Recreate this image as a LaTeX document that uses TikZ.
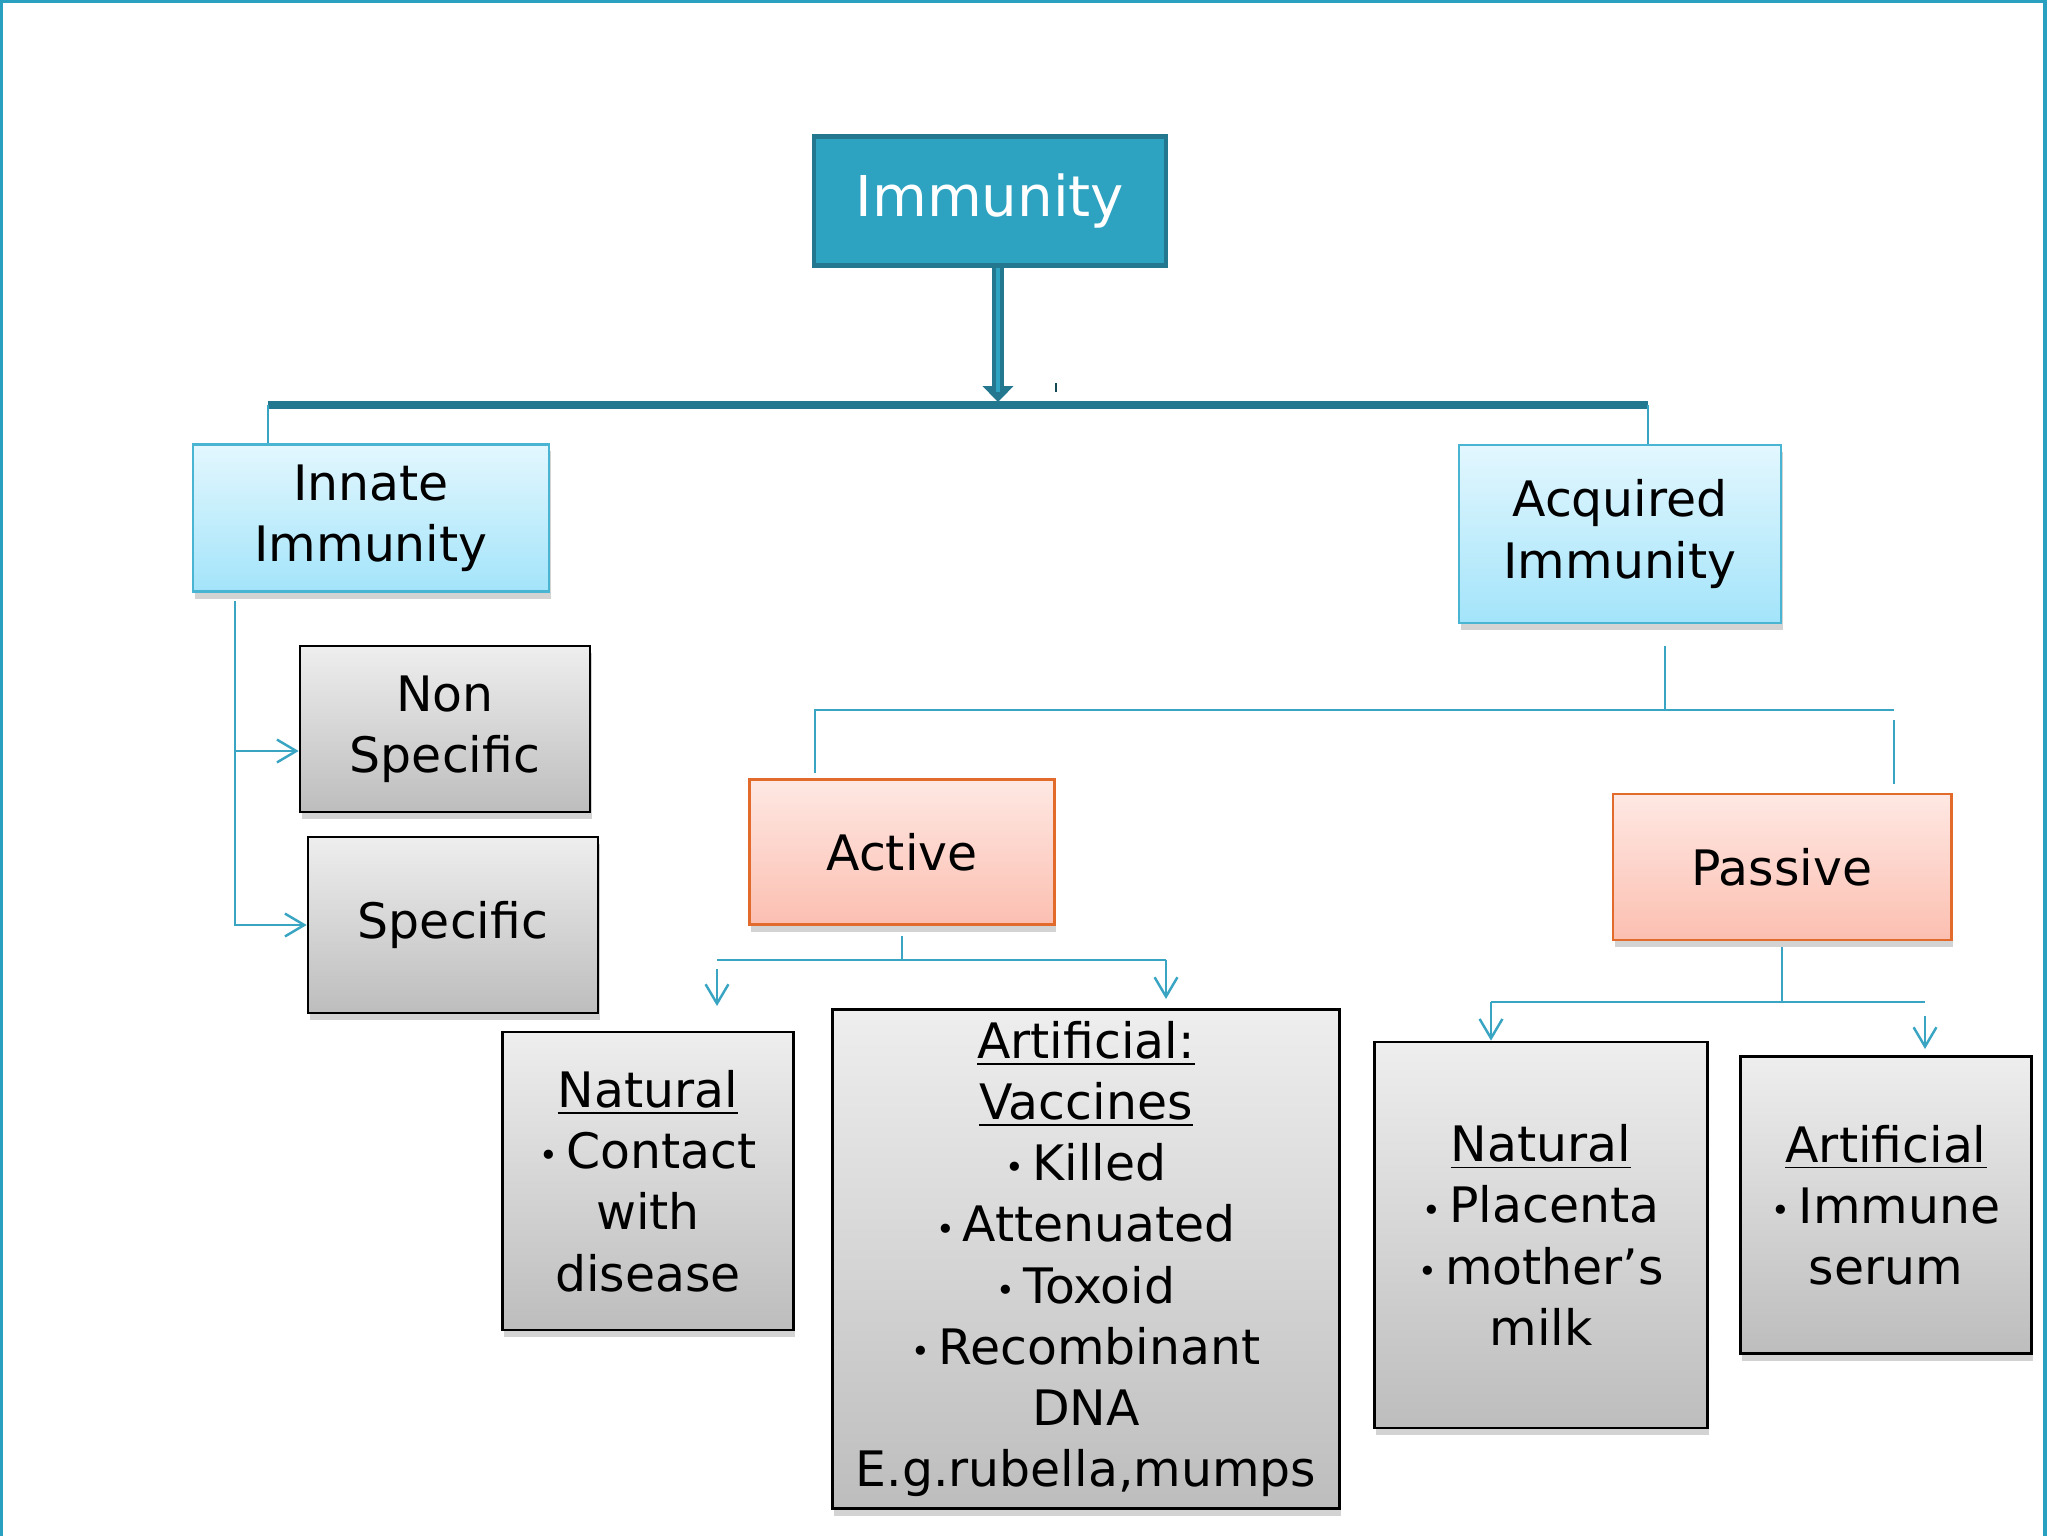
\documentclass[tikz,border=0pt]{standalone}
\usepackage{fontspec}
\setmainfont{DejaVu Sans}
\usepackage{tikz}
\usetikzlibrary{arrows.meta}
\usetikzlibrary{shadows}
\usetikzlibrary{positioning}

\definecolor{teal1}{HTML}{2EA3C1}
\definecolor{teal2}{HTML}{23788F}
\definecolor{wire}{HTML}{3AA5C3}
\definecolor{frameblue}{HTML}{2AA0C0}
\definecolor{bluetop}{HTML}{E3F7FE}
\definecolor{bluebot}{HTML}{A3E4FA}
\definecolor{blueline}{HTML}{49B5D3}
\definecolor{redtop}{HTML}{FEE8E3}
\definecolor{redbot}{HTML}{FCBFB1}
\definecolor{redline}{HTML}{E26B2C}
\definecolor{greytop}{HTML}{EEEEEE}
\definecolor{greybot}{HTML}{BDBDBD}

\newcommand{\dotitem}{\raisebox{0.5pt}{\fontsize{9}{9}\selectfont\textbullet}\,}

\begin{document}
\begin{tikzpicture}[
    x=0.01cm, y=-0.01cm,
    font=\fontsize{13.9}{17.4}\selectfont,
    boxnode/.style={rectangle, align=center, inner sep=0pt,
        drop shadow={shadow xshift=0.5pt, shadow yshift=-2pt, opacity=0.35}},
    topnode/.style={rectangle, align=center, inner sep=0pt, fill=teal1, draw=teal2,
        line width=1.2pt, text=white, font=\fontsize{16}{20}\selectfont},
    bluenode/.style={boxnode, top color=bluetop, bottom color=bluebot, draw=blueline, line width=0.6pt},
    rednode/.style={boxnode, top color=redtop, bottom color=redbot, draw=redline, line width=0.8pt},
    greynode/.style={boxnode, top color=greytop, bottom color=greybot, draw=black, line width=0.7pt},
    thinline/.style={draw=wire, line width=0.7pt},
    thickline/.style={draw=teal2, line width=2.3pt},
    >={Straight Barb[length=5.5pt, width=6.5pt]},
    ]

    \useasboundingbox (0,0) rectangle (2048,1536);
    \draw[frameblue, line width=1.2pt] (1,1536) -- (1,1) -- (2045,1) -- (2045,1536);

    %Nodes
    \node[topnode, minimum width=3.52cm, minimum height=1.29cm] (immunity) at (990,201) {Immunity};
    \node[bluenode, minimum width=3.56cm, minimum height=1.47cm] (innate) at (371,518) {Innate\\Immunity};
    \node[bluenode, minimum width=3.22cm, minimum height=1.78cm] (acquired) at (1620,534) {Acquired\\Immunity};
    \node[greynode, minimum width=2.90cm, minimum height=1.66cm] (nonspec) at (445,729) {Non\\Specific};
    \node[greynode, minimum width=2.90cm, minimum height=1.76cm] (spec) at (453,925) {Specific};
    \node[rednode, minimum width=3.05cm, minimum height=1.45cm] (active) at (902,852) {Active};
    \node[rednode, minimum width=3.38cm, minimum height=1.46cm] (passive) at (1782,867) {Passive};
    \node[greynode, minimum width=2.91cm, minimum height=2.98cm] (actnat) at (648,1181)
        {\underline{Natural}\\\dotitem Contact\\with\\disease};
    \node[greynode, minimum width=5.07cm, minimum height=4.99cm] (actart) at (1086,1259)
        {\underline{Artificial:}\\\underline{Vaccines}\\\dotitem Killed\\\dotitem Attenuated\\\dotitem Toxoid\\\dotitem Recombinant\\DNA\\E.g.rubella,mumps};
    \node[greynode, minimum width=3.33cm, minimum height=3.86cm] (pasnat) at (1541,1235)
        {\underline{Natural}\\\dotitem Placenta\\\dotitem mother’s\\milk};
    \node[greynode, minimum width=2.91cm, minimum height=2.97cm] (pasart) at (1886,1205)
        {\underline{Artificial}\\\dotitem Immune\\serum};

    %Coordinates
    \coordinate (barL) at (268,405);
    \coordinate (barR) at (1648,405);
    \coordinate (innatedown) at (235,601);
    \coordinate (acqdown) at (1665,646);
    \coordinate (acqjoin) at (1665,710);
    \coordinate (actleg) at (815,773);
    \coordinate (pasgap) at (1894,720);
    \coordinate (pasleg) at (1894,784);
    \coordinate (actjoin) at (902,960);
    \coordinate (actL) at (717,960);
    \coordinate (actLtop) at (717,969);
    \coordinate (actR) at (1166,960);
    \coordinate (pasjoin) at (1782,1002);
    \coordinate (pasL) at (1491,1002);
    \coordinate (pasR) at (1925,1002);
    \coordinate (pasRtop) at (1925,1016);

    %Lines
    \draw[teal2, line width=3.6pt, -{Triangle[length=4.5pt, width=8.5pt]}] (immunity.south -| 998,0) -- (998,402);
    \draw[teal1, line width=1pt] (998,268) -- (998,392);
    \draw[thickline] (barL) -- (barR);
    \draw[teal2!60!black, line width=0.6pt] (1056,383) -- (1056,392);
    \draw[thinline] (barL) -- (barL |- innate.north);
    \draw[thinline] (barR) -- (barR |- acquired.north);

    \draw[thinline, ->] (innatedown) |- (spec.west);
    \draw[thinline, ->] (innatedown |- 0,751) -- (nonspec.west |- 0,751);

    \draw[thinline] (acqdown) -- (acqjoin);
    \draw[thinline] (actleg) |- (acqjoin) -- (acqjoin -| pasgap);
    \draw[thinline] (pasgap) -- (pasleg);

    \draw[thinline] (actjoin |- 0,936) -- (actjoin);
    \draw[thinline] (actL) -- (actR);
    \draw[thinline, ->] (actLtop) -- (actLtop |- 0,1006);
    \draw[thinline, ->] (actR) -- (actR |- 0,999);

    \draw[thinline] (pasjoin |- 0,947) -- (pasjoin);
    \draw[thinline] (pasL) -- (pasR);
    \draw[thinline, ->] (pasL) -- (pasL |- pasnat.north);
    \draw[thinline, ->] (pasRtop) -- (pasRtop |- 0,1049);

\end{tikzpicture}
\end{document}
